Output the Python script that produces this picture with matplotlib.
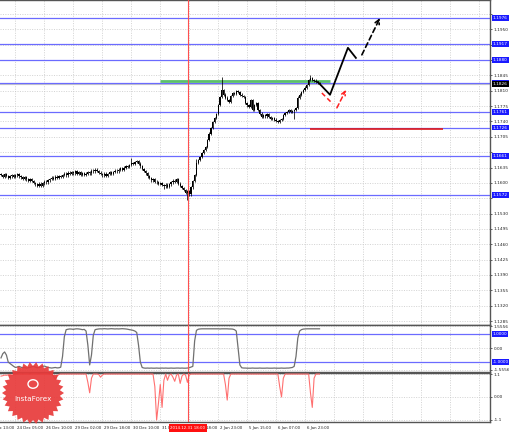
import numpy as np
import matplotlib
matplotlib.use("Agg")
import matplotlib.pyplot as plt
from matplotlib.patches import Polygon, Circle
import matplotlib.transforms as mtrans

# ---------------- data ----------------
closes = [
    1.1618, 1.1614, 1.1620, 1.1616, 1.1612, 1.1615,
    1.1618, 1.1614, 1.1617, 1.1620, 1.1615, 1.1613,
    1.1610, 1.1613, 1.1608, 1.1605, 1.1609, 1.1604,
    1.1600, 1.1597, 1.1594, 1.1598, 1.1593,
    1.1599, 1.1603, 1.1601, 1.1606, 1.1609,
    1.1612, 1.1609, 1.1614, 1.1611, 1.1616, 1.1614,
    1.1618, 1.1621, 1.1617, 1.1623, 1.1620, 1.1625, 1.1622,
    1.1626, 1.1621, 1.1624, 1.1619, 1.1622, 1.1618,
    1.1621, 1.1625, 1.1622, 1.1628, 1.1626, 1.1630,
    1.1627, 1.1623, 1.1620, 1.1617, 1.1621, 1.1616,
    1.1620, 1.1624, 1.1621, 1.1625, 1.1628, 1.1626,
    1.1630, 1.1633, 1.1629, 1.1635, 1.1638, 1.1636,
    1.1641, 1.1645, 1.1643, 1.1648, 1.1650,
    1.1644, 1.1638, 1.1632, 1.1627, 1.1622,
    1.1615, 1.1611, 1.1606, 1.1608, 1.1603, 1.1601,
    1.1598, 1.1600, 1.1595, 1.1592, 1.1596, 1.1591,
    1.1597, 1.1601, 1.1605, 1.1603, 1.1608,
    1.1598, 1.1593, 1.1588, 1.1584,
    1.1578, 1.1581, 1.1574,
    1.1590, 1.1604, 1.1618,
    1.1646, 1.1652, 1.1659,
    1.1668, 1.1675, 1.1682,
    1.1698, 1.1712, 1.1725,
    1.1739, 1.1748, 1.1757,
    1.1778, 1.1796,
    1.1812,
    1.1801, 1.1794, 1.1789,
    1.1785, 1.1798, 1.1805,
    1.1803, 1.1809, 1.1807,
    1.1801, 1.1798, 1.1796,
    1.1782, 1.1777, 1.1773,
    1.1789, 1.1766,
    1.1778, 1.1782,
    1.1766, 1.1758, 1.1750,
    1.1755, 1.1752, 1.1757,
    1.1750, 1.1746, 1.1748,
    1.1744, 1.1741, 1.1739,
    1.1743, 1.1746,
    1.1755, 1.1759, 1.1762,
    1.1766, 1.1762, 1.1764,
    1.1766, 1.1771,
    1.1794, 1.1801, 1.1807,
    1.1812, 1.1817,
    1.1823, 1.1835,
    1.1839, 1.1835,
    1.1833, 1.1830, 1.1828, 1.1826,
]
first_open = 1.1620
spike_highs = {72: 1.1656, 122: 1.1842, 171: 1.1846, 108: 1.1655}
spike_lows = {103: 1.1561, 162: 1.1745, 90: 1.1586}

osc1 = [
    -0.7, -0.4, -0.28, -0.5, -1.0, -1.1, -1.2, -1.3,
    -1.38, -1.35, -1.30, -1.36, -1.40, -1.38, -1.42, -1.40, -1.37, -1.33,
    -1.30, -1.35, -1.40, -1.38, -1.36, -1.30, -1.28, -1.33, -1.38, -1.40,
    -1.42, -1.40, -1.38, -1.41, -1.40, -1.36,
    -0.6, 0.8,
    1.30, 1.33, 1.35, 1.34, 1.32, 1.35, 1.36, 1.35, 1.33, 1.30, 1.32, 1.20,
    0.2, -1.2, -0.5, 0.9,
    1.30, 1.33, 1.35, 1.36, 1.35, 1.37, 1.36, 1.35, 1.36, 1.37, 1.36, 1.35,
    1.36, 1.35, 1.36, 1.37, 1.36, 1.35, 1.33, 1.30, 1.28, 1.25, 1.20, 1.10,
    0.2, -1.0,
    -1.38, -1.42, -1.43, -1.42, -1.43, -1.42, -1.43, -1.43, -1.42, -1.43,
    -1.43, -1.42, -1.43, -1.42, -1.43, -1.43, -1.42, -1.43, -1.43, -1.42,
    -1.42, -1.43, -1.42, -1.43, -1.43, -1.42, -1.40, -1.35, -1.30,
    0.5,
    1.25, 1.33, 1.35, 1.36, 1.36, 1.36, 1.36, 1.36, 1.36, 1.36, 1.36, 1.36,
    1.36, 1.35, 1.36, 1.36, 1.36, 1.36, 1.35, 1.35, 1.34, 1.30, 1.20,
    0.0, -1.2,
    -1.40, -1.42, -1.42, -1.43, -1.43, -1.43, -1.42, -1.43, -1.43, -1.43,
    -1.42, -1.43, -1.43, -1.43, -1.42, -1.43, -1.43, -1.43, -1.42, -1.43,
    -1.43, -1.43, -1.42, -1.43, -1.43, -1.42, -1.42, -1.40, -1.38, -1.30,
    -0.6, 0.7,
    1.20, 1.30, 1.34, 1.35, 1.36, 1.36, 1.36, 1.36, 1.36, 1.36, 1.36, 1.36,
]

osc2 = [
    1.0, 1.02, 1.05, 1.04, 1.06, 1.08, 1.05, 1.07, 1.08, 1.09,
    1.1, 1.1, 1.09, 1.1, 1.1, 1.1, 1.08, 1.1, 1.1, 1.1,
    1.1, 1.09, 1.1, 1.1, 1.1, 1.1, 1.1, 1.08, 1.1,
    1.0, 0.85, 1.0, 1.08, 1.1,
    1.1, 1.1, 1.1, 1.1, 1.1, 1.1, 1.1, 1.1, 1.1, 1.1, 1.1, 1.1, 1.1, 1.1,
    0.7, 0.2, 0.9,
    1.1, 1.1, 1.1, 1.08,
    0.95, 1.05, 1.1,
    1.1, 1.1, 1.1, 1.1, 1.1, 1.1, 1.1, 1.1, 1.1, 1.1, 1.1, 1.1, 1.1, 1.1,
    1.1, 1.1, 1.1, 1.1, 1.1, 1.1, 1.1, 1.1, 1.1, 1.1, 1.1, 1.1, 1.1,
    0.5, -1.1, -0.3, 0.6, -0.5, 0.8,
    1.1, 0.8, 1.05, 1.1, 0.95, 0.75, 1.05, 1.1, 0.65, 1.0, 1.1, 1.05, 0.7, 1.05,
    1.1, 1.1, 1.1, 1.1, 1.1, 1.1, 1.1, 1.1, 1.1, 1.1, 1.1, 1.1, 1.1, 1.1,
    1.1, 1.1, 1.1, 1.1, 1.1,
    0.6, -0.15, 0.9,
    1.1, 1.1, 1.1, 1.1, 1.1, 1.1, 1.1, 1.1, 1.1, 1.1, 1.1, 1.1, 1.1, 1.1,
    1.1, 1.1, 1.1, 1.1, 1.1, 1.1, 1.1, 1.1, 1.1, 1.1, 1.1, 1.1, 1.1,
    0.5, 0.0, 0.9,
    1.1, 1.1, 1.1, 1.1, 1.1, 1.1, 1.1, 1.1, 1.1, 1.1, 1.1, 1.1, 1.1, 1.1,
    0.2, -0.5, 0.9,
    1.1, 1.1, 1.1,
]

price_ticks = [1.1985, 1.1950, 1.1915, 1.1880, 1.1845, 1.1810, 1.1775, 1.1740,
               1.1705, 1.1670, 1.1635, 1.1600, 1.1565, 1.1530, 1.1495, 1.1460,
               1.1425, 1.1390, 1.1355, 1.1320, 1.1285]
levels = [1.1976, 1.1917, 1.1880, 1.1828, 1.1761, 1.1726, 1.1661, 1.1572]
level_labels = ["1.1976", "1.1917", "1.1880", "1.1828", "1.1761", "1.1726", "1.1661", "1.1572"]

time_tick_bars = [-8, 8, 24, 40, 56, 72, 88, 104, 120, 136, 152, 168,
                  184, 200, 216, 232, 248, 264]
time_labels = ["23 Dec 13:00", "24 Dec 05:00", "26 Dec 10:00", "29 Dec 02:00",
               "29 Dec 18:00", "30 Dec 10:00", "31 Dec 02:00", "31 Dec 18:00",
               "2 Jan 23:00", "5 Jan 15:00", "6 Jan 07:00", "6 Jan 23:00"]
cursor_bar = 103.3
cursor_label = "2014.12.31 18:00"

resistance = (88, 182, 1.1833)    # green: start bar, end bar, price
support = (171, 244, 1.1723)      # red: start bar, end bar, price
fc_solid_x = [175.1, 181.8, 191.7, 196.1]
fc_solid_y = [1.1830, 1.1801, 1.1908, 1.1885]
fc_dash_x = [199.4, 209.4]
fc_dash_y = [1.1892, 1.1976]
alt1_x = [177.3, 183.4]
alt1_y = [1.1805, 1.1780]
alt2_x = [185.6, 190.6]
alt2_y = [1.1771, 1.1812]

osc1_levels = [1.0, -1.0]
osc1_ticks = [1.5556, 0.0, -1.5556]
osc1_ticklabels = ["1.5556", "0.00", "-1.5556"]
osc2_ticks = [1.1, 0.0, -1.1]
osc2_ticklabels = ["1.1", "0.00", "-1.1"]

# ---------------- figure ----------------
W, H = 510, 433
fig = plt.figure(figsize=(W / 100, H / 100), dpi=100)
fig.patch.set_facecolor("white")

def px_axes(top, bottom, right=490):
    return fig.add_axes([0, 1 - bottom / H, right / W, (bottom - top) / H])

ax1 = px_axes(0, 325)
ax2 = px_axes(325, 372)
ax3 = px_axes(373, 422)

xlim = (-0.55, 270.2)
grid_kw = dict(color="#c4c4c4", linestyle=(0, (1.5, 2)), linewidth=0.5)
lab_fs = 3.1
time_fs = 2.8
blue = "#6b6bff"

for ax in (ax1, ax2, ax3):
    ax.set_facecolor("white")
    ax.yaxis.tick_right()
    ax.tick_params(axis="y", length=1.5, width=0.5, labelsize=lab_fs, pad=1.0, colors="#222222")
    ax.tick_params(axis="x", length=0)
    ax.set_xticks(time_tick_bars)
    ax.set_xticklabels([])
    ax.set_xlim(*xlim)
    ax.grid(True, **grid_kw)
    ax.set_axisbelow(True)
    for s in ax.spines.values():
        s.set_color("#555555")
        s.set_linewidth(1.0)
    ax.spines["left"].set_visible(False)
    ax.axvline(cursor_bar, color="#ff5050", linewidth=0.8, zorder=5)

# ---- main price panel ----
ax1.set_yticks(price_ticks)
ax1.set_ylim(1.1276, 1.2017)
shown = []
for t in price_ticks:
    hidden = any(abs(t - lv) < 0.0012 for lv in levels)
    shown.append("" if hidden else f"{t:.4f}")
ax1.set_yticklabels(shown)

for lv in levels:
    ax1.axhline(lv, color=blue, linewidth=0.9, zorder=2)
last_close = closes[-1]
ax1.axhline(last_close, color="#c8c8c8", linewidth=0.8, zorder=1)

opens = [first_open] + closes[:-1]
idx = np.arange(len(closes))
o = np.array(opens)
c = np.array(closes)
top = np.maximum(o, c)
bot = np.minimum(o, c)
hi = top + 0.0003
lo = bot - 0.0003
for k, v in spike_highs.items():
    hi[k] = v
for k, v in spike_lows.items():
    lo[k] = v
ax1.vlines(idx, lo, hi, color="black", linewidth=0.55, zorder=4)
body_h = np.maximum(top - bot, 0.00008)
ax1.bar(idx, body_h, bottom=bot, width=0.7, color="black", linewidth=0, zorder=4)

ax1.hlines(resistance[2], resistance[0], resistance[1], color="#5cc06a", linewidth=2.0, zorder=3)
ax1.hlines(support[2], support[0], support[1], color="#e01818", linewidth=1.2, zorder=3)

ax1.plot(fc_solid_x, fc_solid_y, color="black", linewidth=1.3, zorder=6)
ax1.annotate("", xy=(fc_dash_x[1], fc_dash_y[1]), xytext=(fc_dash_x[0], fc_dash_y[0]),
             arrowprops=dict(arrowstyle="->", color="black", lw=1.2, linestyle=(0, (3, 2)),
                             mutation_scale=8, shrinkA=0, shrinkB=0), zorder=6)
ax1.plot(alt1_x, alt1_y, color="#ff2020", linewidth=1.1, linestyle=(0, (3, 2)), zorder=6)
ax1.annotate("", xy=(alt2_x[1], alt2_y[1]), xytext=(alt2_x[0], alt2_y[0]),
             arrowprops=dict(arrowstyle="->", color="#ff2020", lw=1.1, linestyle=(0, (3, 2)),
                             mutation_scale=7, shrinkA=0, shrinkB=0), zorder=6)
ax1.set_xlim(*xlim)

trans1 = mtrans.blended_transform_factory(ax1.transAxes, ax1.transData)
box_kw = dict(boxstyle="square,pad=0.2", edgecolor="none")
for lv, lb in zip(levels, level_labels):
    ax1.text(1.006, lv, lb, transform=trans1, fontsize=lab_fs, color="white", va="center",
             ha="left", clip_on=False, zorder=10, bbox=dict(facecolor="#1a1aff", **box_kw))
ax1.text(1.006, last_close, f"{last_close:.4f}", transform=trans1, fontsize=lab_fs,
         color="white", va="center", ha="left", clip_on=False, zorder=11,
         bbox=dict(facecolor="black", **box_kw))

# ---- oscillator 1 ----
ax2.set_yticks(osc1_ticks)
ax2.set_yticklabels(osc1_ticklabels)
ax2.set_ylim(-1.70, 1.63)
for lv in osc1_levels:
    ax2.axhline(lv, color=blue, linewidth=0.9, zorder=2)
ax2.plot(np.arange(len(osc1)), osc1, color="#707070", linewidth=0.9, zorder=4)
ax2.set_xlim(*xlim)
trans2 = mtrans.blended_transform_factory(ax2.transAxes, ax2.transData)
for lv in osc1_levels:
    ax2.text(1.006, lv, f"{lv:.4f}", transform=trans2, fontsize=lab_fs, color="white",
             va="center", ha="left", clip_on=False, zorder=10,
             bbox=dict(facecolor="#1a1aff", **box_kw))

# ---- oscillator 2 ----
ax3.set_yticks(osc2_ticks)
ax3.set_yticklabels(osc2_ticklabels)
ax3.set_ylim(-1.2, 1.15)
ax3.plot(np.arange(len(osc2)), osc2, color="#ff7070", linewidth=0.8, zorder=4)
ax3.set_xlim(*xlim)

# time labels under the bottom panel
trans3 = mtrans.blended_transform_factory(ax3.transData, fig.transFigure)
for b, lb in zip(time_tick_bars, time_labels):
    ax3.text(b + 1.0, 1 - 428 / H, lb, transform=trans3, fontsize=time_fs, ha="left",
             va="center", color="#222222", clip_on=False, zorder=3)
ax3.text(cursor_bar, 1 - 428 / H, cursor_label, transform=trans3, fontsize=time_fs, ha="center",
         va="center", color="white", clip_on=False, zorder=12,
         bbox=dict(boxstyle="square,pad=0.4", facecolor="#ff1010", edgecolor="none"))

# ---- InstaForex badge ----
cx, cy, r_out, r_in, n = 33, 393, 31, 27, 30
ang = np.linspace(0, 2 * np.pi, 2 * n, endpoint=False)
rad = np.where(np.arange(2 * n) % 2 == 0, r_out, r_in)
pts = np.column_stack([(cx + rad * np.cos(ang)) / W, 1 - (cy + rad * np.sin(ang)) / H])
fig.patches.append(Polygon(pts, closed=True, transform=fig.transFigure,
                           facecolor="#e83a3a", edgecolor="none", alpha=0.92, zorder=20))
fig.patches.append(Circle((cx / W, 1 - (cy - 9) / H), 5 / W, transform=fig.transFigure,
                          facecolor="none", edgecolor="white", linewidth=1.0, zorder=21))
fig.text(cx / W, 1 - (cy + 6) / H, "InstaForex", fontsize=5.2, color="white",
         ha="center", va="center", zorder=22)

fig.savefig("out.png", dpi=100, facecolor="white")
